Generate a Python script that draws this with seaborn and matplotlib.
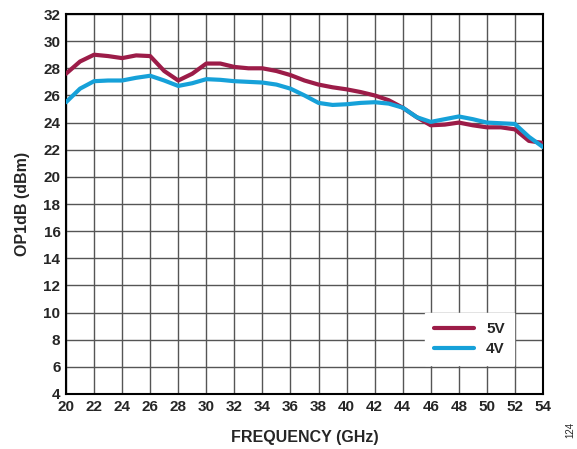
import numpy as np
import pandas as pd
import seaborn as sns
import matplotlib
matplotlib.use("Agg")
import matplotlib.pyplot as plt

freq_ghz = [20, 21, 22, 23, 24, 25, 26, 27, 28, 29, 30, 31, 32, 33, 34, 35, 36,
            37, 38, 39, 40, 41, 42, 43, 44, 45, 46, 47, 48, 49, 50, 51, 52, 53, 54]
op1db_5v = [27.6, 28.5, 29.0, 28.9, 28.75, 28.95, 28.9, 27.8, 27.1, 27.6, 28.35,
            28.35, 28.1, 28.0, 28.0, 27.8, 27.5, 27.1, 26.8, 26.6, 26.45, 26.25,
            26.0, 25.65, 25.1, 24.4, 23.8, 23.85, 24.0, 23.8, 23.65, 23.65, 23.5,
            22.65, 22.5]
op1db_4v = [25.5, 26.5, 27.05, 27.1, 27.1, 27.3, 27.45, 27.1, 26.7, 26.9, 27.2,
            27.15, 27.05, 27.0, 26.95, 26.8, 26.5, 26.0, 25.45, 25.3, 25.35, 25.45,
            25.5, 25.4, 25.1, 24.4, 24.05, 24.25, 24.45, 24.25, 24.0, 23.95, 23.9,
            22.95, 22.2]
x_ticks = list(range(20, 55, 2))
y_ticks = list(range(4, 33, 2))

df = pd.DataFrame({
    "freq": freq_ghz * 2,
    "op1db": op1db_5v + op1db_4v,
    "supply": ["5V"] * len(freq_ghz) + ["4V"] * len(freq_ghz),
})

sns.set_style("white")
plt.rcParams["font.family"] = ["Liberation Sans", "DejaVu Sans"]
plt.rcParams["font.weight"] = "bold"

fig = plt.figure(figsize=(5.77, 4.49), dpi=100)
ax = fig.add_axes([0.1144, 0.1225, 0.8266, 0.8463])

sns.lineplot(data=df, x="freq", y="op1db", hue="supply",
             palette={"5V": "#9c1c48", "4V": "#16a1d9"},
             linewidth=3, ax=ax, zorder=3)

ax.set_xlim(20, 54)
ax.set_ylim(4, 32)
ax.set_xticks(x_ticks)
ax.set_yticks(y_ticks)
ax.grid(True, color="#555555", linewidth=1)
ax.set_axisbelow(True)
ax.tick_params(length=0, labelsize=11, pad=4)
for lab in ax.get_xticklabels() + ax.get_yticklabels():
    lab.set_fontweight("bold")
for s in ax.spines.values():
    s.set_color("black")
    s.set_linewidth(1.5)

ax.set_xlabel("FREQUENCY (GHz)", fontsize=11.5, fontweight="bold", labelpad=12)
ax.set_ylabel("OP1dB (dBm)", fontsize=11.5, fontweight="bold", labelpad=10)

leg = ax.legend(title=None, loc="lower right", bbox_to_anchor=(0.955, 0.055),
                frameon=True, fancybox=False, handlelength=2.6,
                prop={"weight": "bold", "size": 11}, borderpad=0.6,
                labelspacing=0.4)
leg.get_frame().set_edgecolor("white")
leg.get_frame().set_facecolor("white")
leg.get_frame().set_alpha(1)
for line in leg.get_lines():
    line.set_linewidth(3)

fig.text(0.988, 0.025, "124", rotation=90, fontsize=7, fontweight="normal",
         ha="center", va="bottom")

fig.savefig("out.png", dpi=100)
